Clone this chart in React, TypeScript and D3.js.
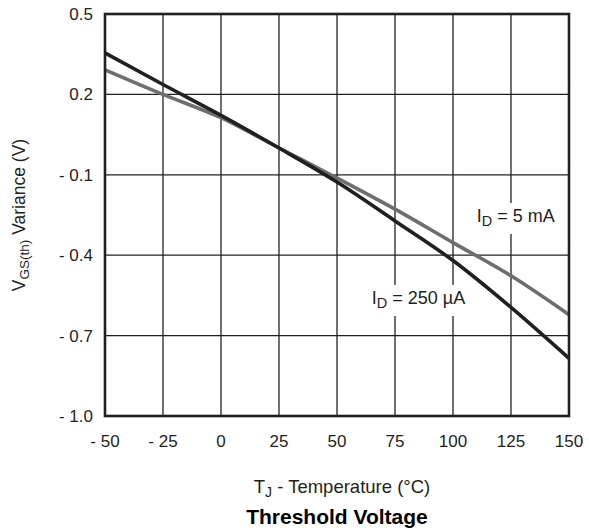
import React from "react";
import * as d3 from "d3";

const temps = [-50, -25, 0, 25, 50, 75, 100, 125, 150];
const id250uA = [0.355, 0.237, 0.122, 0.0, -0.127, -0.272, -0.42, -0.595, -0.785];
const id5mA = [0.292, 0.2, 0.113, 0.0, -0.112, -0.228, -0.353, -0.477, -0.622];
const xTicks = [-50, -25, 0, 25, 50, 75, 100, 125, 150];
const yTicks = [0.5, 0.2, -0.1, -0.4, -0.7, -1.0];
const labels = [
  { main: "I", sub: "D", rest: " = 5 mA", t: 110.2, v: -0.276 },
  { main: "I", sub: "D", rest: " = 250 µA", t: 65.0, v: -0.582 },
];

const W = 589, H = 531;
const M = { left: 105, right: 569, top: 14, bottom: 416 };
const FONT = "'Liberation Sans', Arial, Helvetica, sans-serif";
const INK = "#231f20";

const fmt = (v: number, isX: boolean) => {
  const s = isX ? String(Math.abs(v)) : Math.abs(v).toFixed(1);
  return v < 0 ? "- " + s : s;
};

export default function App() {
  const x = d3.scaleLinear().domain([-50, 150]).range([M.left, M.right]);
  const y = d3.scaleLinear().domain([-1.0, 0.5]).range([M.bottom, M.top]);
  const line = d3
    .line<[number, number]>()
    .x((d) => x(d[0]))
    .y((d) => y(d[1]))
    .curve(d3.curveMonotoneX);
  const series = [
    { vals: id5mA, color: "#6d6e71" },
    { vals: id250uA, color: INK },
  ];
  return (
    <svg width={W} height={H} style={{ position: "absolute", left: 0, top: 0 }} fontFamily={FONT}>
      <rect width={W} height={H} fill="#fff" />
      {xTicks.map((t) => (
        <line key={"gx" + t} x1={x(t)} x2={x(t)} y1={M.top} y2={M.bottom} stroke={INK} strokeWidth={1.3} />
      ))}
      {yTicks.map((t) => (
        <line key={"gy" + t} x1={M.left} x2={M.right} y1={y(t)} y2={y(t)} stroke={INK} strokeWidth={1.3} />
      ))}
      {labels.map((l, i) => (
        <rect key={"lb" + i} x={x(l.t) - 5} y={y(l.v) - 19} width={l.rest.length > 8 ? 104 : 90} height={31} fill="#fff" />
      ))}
      {series.map((s, i) => (
        <path
          key={"s" + i}
          d={line(temps.map((t, j) => [t, s.vals[j]] as [number, number])) || ""}
          fill="none"
          stroke={s.color}
          strokeWidth={3.6}
        />
      ))}
      {labels.map((l, i) => (
        <text key={"lt" + i} x={x(l.t)} y={y(l.v)} fontSize={18} fill={INK}>
          {l.main}
          <tspan fontSize={14.5} dy={4}>{l.sub}</tspan>
          <tspan dy={-4}>{l.rest}</tspan>
        </text>
      ))}
      <rect x={M.left} y={M.top} width={M.right - M.left} height={M.bottom - M.top} fill="none" stroke={INK} strokeWidth={2.6} />
      {xTicks.map((t) => (
        <text key={"tx" + t} x={x(t)} y={447} textAnchor="middle" fontSize={17} fill={INK}>
          {fmt(t, true)}
        </text>
      ))}
      {yTicks.map((t) => (
        <text key={"ty" + t} x={93} y={y(t) + 6} textAnchor="end" fontSize={17} fill={INK}>
          {fmt(t, false)}
        </text>
      ))}
      <text x={(M.left + M.right) / 2 + 5} y={493} textAnchor="middle" fontSize={18.5} fill={INK}>
        T<tspan fontSize={14} dy={4}>J</tspan>
        <tspan dy={-4}> - Temperature (°C)</tspan>
      </text>
      <text x={(M.left + M.right) / 2} y={524} textAnchor="middle" fontSize={21} fontWeight="bold" fill="#000">
        Threshold Voltage
      </text>
      <text transform={`translate(25,${(M.top + M.bottom) / 2}) rotate(-90)`} textAnchor="middle" fontSize={17.5} fill={INK}>
        V<tspan fontSize={13.5} dy={4}>GS(th)</tspan>
        <tspan dy={-4}> Variance (V)</tspan>
      </text>
    </svg>
  );
}
